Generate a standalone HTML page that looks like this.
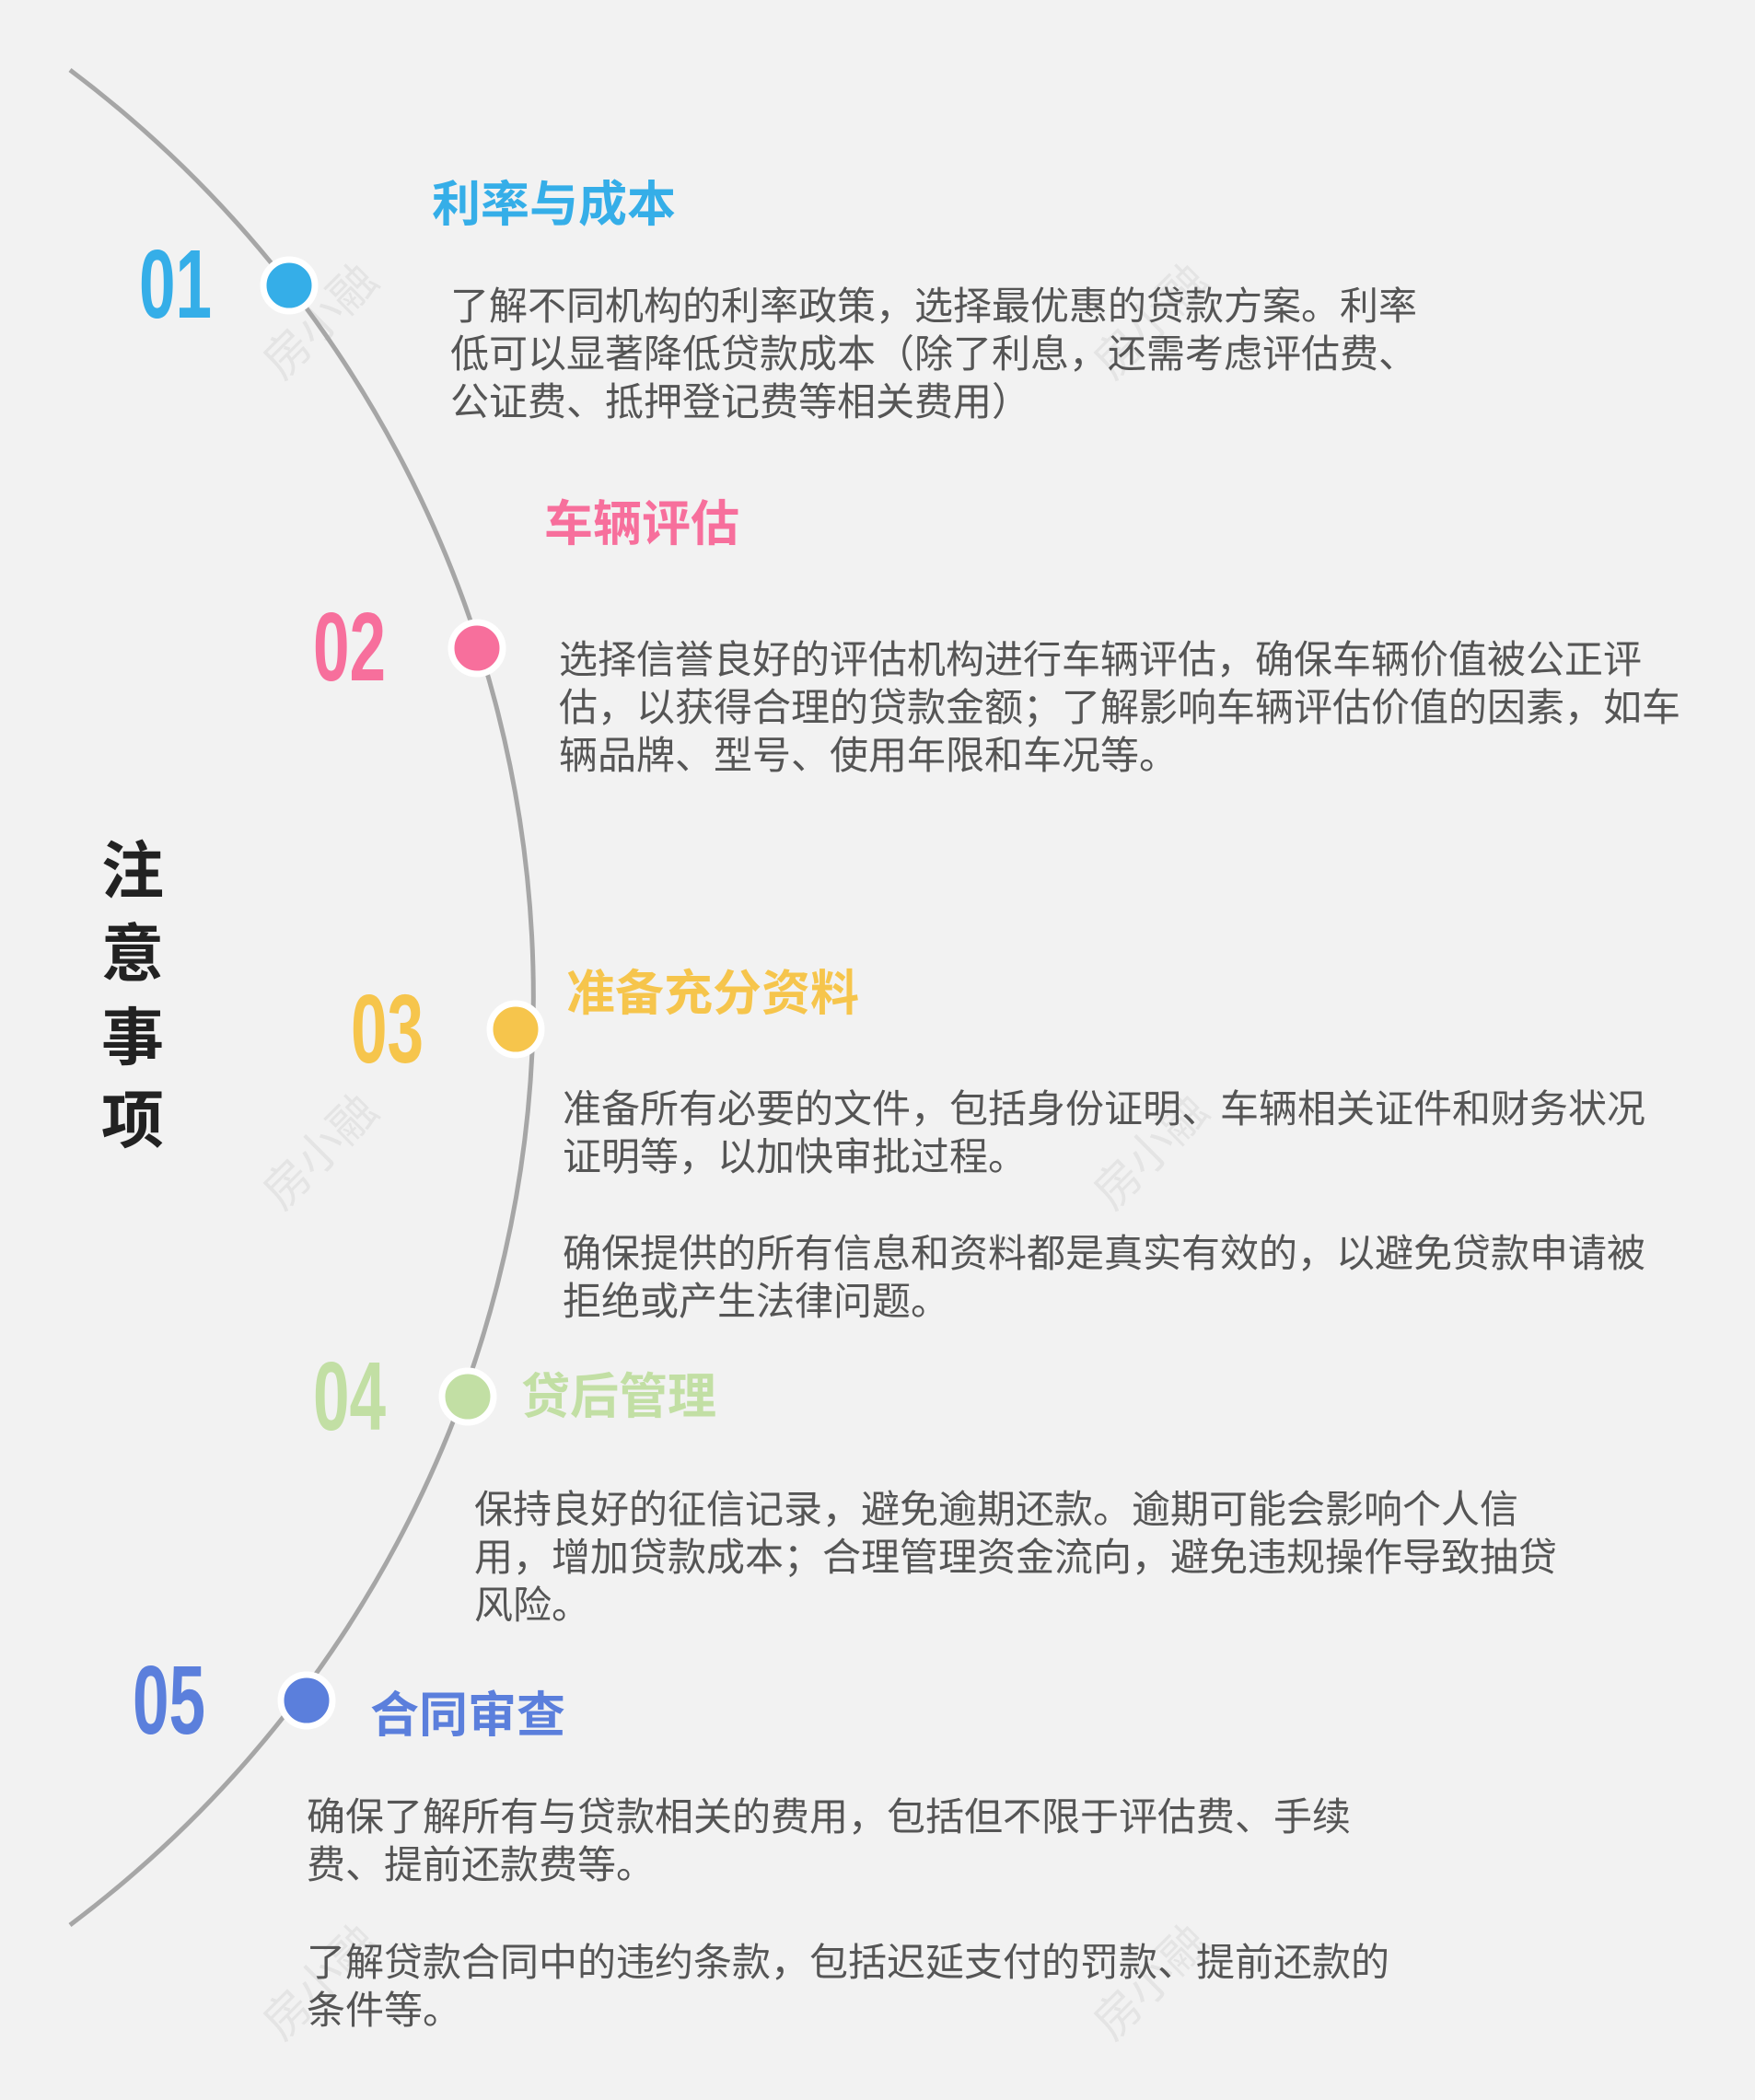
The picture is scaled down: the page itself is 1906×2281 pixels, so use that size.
<!DOCTYPE html>
<html><head><meta charset="utf-8"><style>
html,body{margin:0;padding:0}
body{width:1906px;height:2281px;background:#f2f2f2;position:relative;overflow:hidden;font-family:"Liberation Sans","Noto Sans CJK SC",sans-serif}
.n{position:absolute;font-family:"Liberation Sans Narrow","Liberation Sans",sans-serif;font-weight:bold;font-size:96px;line-height:96px;transform:scaleX(.74) scaleY(1.1);transform-origin:left center}
.t{position:absolute;font-weight:bold;font-size:53px;line-height:60px;white-space:nowrap}
.b{position:absolute;font-size:42px;line-height:52px;color:#555;white-space:nowrap}
.v{position:absolute;left:110px;font-weight:bold;font-size:68px;line-height:68px;color:#222}
.w{position:absolute;font-size:50px;color:#e4e4e4;transform:rotate(-45deg);white-space:nowrap}
</style></head><body>
<div class="w" style="left:270px;top:310px">房小融</div>
<div class="w" style="left:1172px;top:310px">房小融</div>
<div class="w" style="left:270px;top:1212px">房小融</div>
<div class="w" style="left:1172px;top:1212px">房小融</div>
<div class="w" style="left:270px;top:2114px">房小融</div>
<div class="w" style="left:1172px;top:2114px">房小融</div>
<svg width="1906" height="2281" style="position:absolute;left:0;top:0">
<path d="M76 76 A1260 1260 0 0 1 76 2091" fill="none" stroke="#a6a6a6" stroke-width="5"/>
<g stroke="#fff" stroke-width="7">
<circle cx="314" cy="310" r="28" fill="#35aee8"/>
<circle cx="518" cy="704" r="28" fill="#f76f9c"/>
<circle cx="560" cy="1118" r="28" fill="#f6c54c"/>
<circle cx="508" cy="1517" r="28" fill="#c2dfa4"/>
<circle cx="333" cy="1847" r="28" fill="#5b7fdc"/>
</g></svg>
<div class="n" style="left:151px;top:262px;color:#35aee8">01</div>
<div class="n" style="left:340px;top:656px;color:#f76f9c">02</div>
<div class="n" style="left:381px;top:1071px;color:#f6c54c">03</div>
<div class="n" style="left:340px;top:1470px;color:#c2dfa4">04</div>
<div class="n" style="left:144px;top:1800px;color:#5b7fdc">05</div>
<div class="t" style="left:469px;top:193px;color:#35aee8">利率与成本</div>
<div class="t" style="left:591px;top:540px;color:#f76f9c">车辆评估</div>
<div class="t" style="left:615px;top:1050px;color:#f6c54c">准备充分资料</div>
<div class="t" style="left:566px;top:1488px;color:#c2dfa4">贷后管理</div>
<div class="t" style="left:402px;top:1834px;color:#5b7fdc">合同审查</div>
<div class="b" style="left:489px;top:307px">了解不同机构的利率政策，选择最优惠的贷款方案。利率<br>低可以显著降低贷款成本（除了利息，还需考虑评估费、<br>公证费、抵押登记费等相关费用）</div>
<div class="b" style="left:607px;top:691px">选择信誉良好的评估机构进行车辆评估，确保车辆价值被公正评<br>估，以获得合理的贷款金额；了解影响车辆评估价值的因素，如车<br>辆品牌、型号、使用年限和车况等。</div>
<div class="b" style="left:611px;top:1179px">准备所有必要的文件，包括身份证明、车辆相关证件和财务状况<br>证明等，以加快审批过程。</div>
<div class="b" style="left:611px;top:1336px">确保提供的所有信息和资料都是真实有效的，以避免贷款申请被<br>拒绝或产生法律问题。</div>
<div class="b" style="left:515px;top:1614px">保持良好的征信记录，避免逾期还款。逾期可能会影响个人信<br>用，增加贷款成本；合理管理资金流向，避免违规操作导致抽贷<br>风险。</div>
<div class="b" style="left:333px;top:1948px">确保了解所有与贷款相关的费用，包括但不限于评估费、手续<br>费、提前还款费等。</div>
<div class="b" style="left:333px;top:2106px">了解贷款合同中的违约条款，包括迟延支付的罚款、提前还款的<br>条件等。</div>
<div class="v" style="top:913px">注</div>
<div class="v" style="top:1003px">意</div>
<div class="v" style="top:1094px">事</div>
<div class="v" style="top:1184px">项</div>
</body></html>
